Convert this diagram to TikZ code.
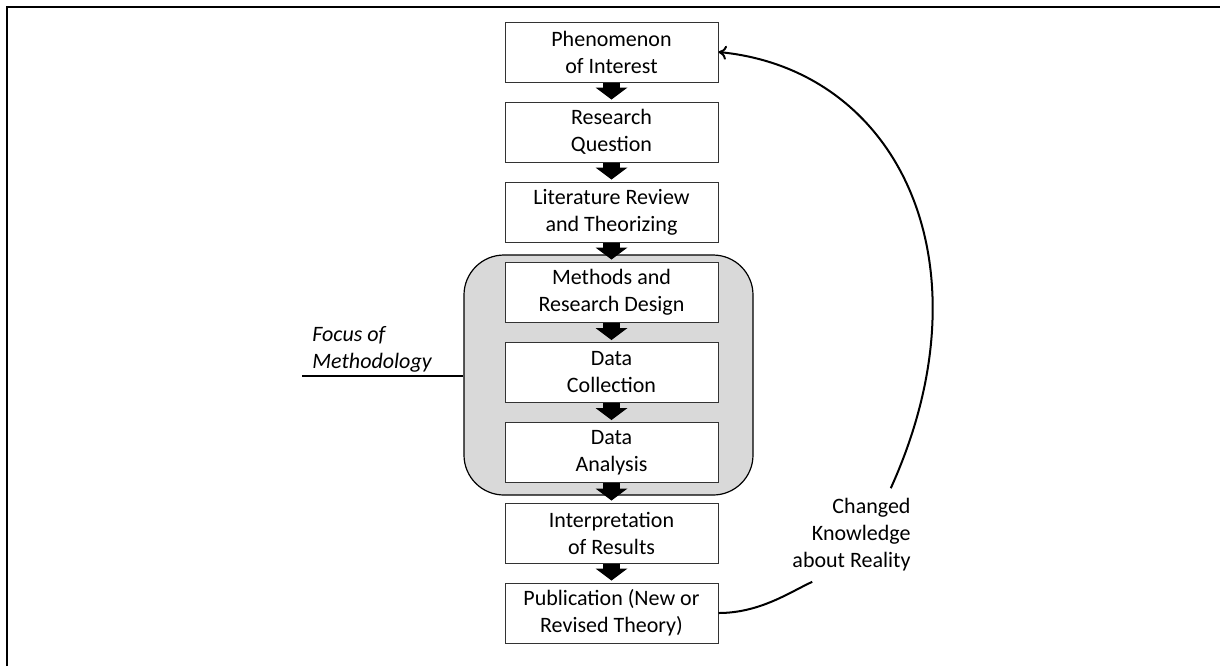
\documentclass[tikz,border=0pt]{standalone}
\usepackage{fontspec}
\setmainfont{Carlito}
\usepackage{tikz}
\usetikzlibrary{positioning,arrows.meta}

\begin{document}
\begin{tikzpicture}[x=0.5pt, y=-0.5pt,
  stepbox/.style={draw=black!80, line width=0.5pt, fill=white, align=center,
    minimum width=106.5pt, minimum height=30pt, inner sep=2pt,
    font=\fontsize{11}{13.5}\selectfont},
  blockarrow/.style={line width=8.5pt, shorten >=1pt,
    -{Triangle[width=16pt, length=6pt, line width=0pt]}},
  focusbox/.style={draw=black, line width=0.6pt, fill=black!15, rounded corners=20pt,
    minimum width=144.5pt, minimum height=120pt},
  feedback/.style={line width=1pt},
  note/.style={font=\fontsize{11}{13.5}\selectfont, inner sep=0pt}]
  \useasboundingbox (0,0) rectangle (1220,666);

  % Frame
  \draw[line width=1pt] (7,666) -- (7,7) -- (1220,7);

  % Focus of methodology
  \node[focusbox] (focus) at (608.5,375) {};
  \node[note, align=left, anchor=south west, font=\fontsize{11}{13.5}\selectfont\itshape]
    (focusnote) at (312,373) {Focus of\\Methodology};
  \coordinate (fstart) at (302,376);
  \draw[line width=0.6pt] (fstart) -- (focus.west |- fstart);

  % Steps
  \node[stepbox] (phen) at (611.5,52)  {Phenomenon\\of Interest};
  \node[stepbox] (rq)   at (611.5,132) {Research\\Question};
  \node[stepbox] (lit)  at (611.5,212) {Literature Review\\and Theorizing};
  \node[stepbox] (meth) at (611.5,292) {Methods and\\Research Design};
  \node[stepbox] (dcol) at (611.5,372.5) {Data\\Collection};
  \node[stepbox] (dana) at (611.5,452.5) {Data\\Analysis};
  \node[stepbox] (interp) at (611.5,533) {Interpretation\\of Results};
  \node[stepbox] (pub)  at (611.5,613) {Publication (New or\\Revised Theory)};

  % Arrows
  \draw[blockarrow] (phen) -- (rq);
  \draw[blockarrow] (rq) -- (lit);
  \draw[blockarrow] (lit) -- (meth);
  \draw[blockarrow] (meth) -- (dcol);
  \draw[blockarrow] (dcol) -- (dana);
  \draw[blockarrow] (dana) -- (interp);
  \draw[blockarrow] (interp) -- (pub);

  % Feedback loop
  \node[note, align=right, inner sep=5pt] (lbl) at (851.5,535)
    {Changed\\Knowledge\\about Reality};
  \draw[feedback] (pub.east) .. controls (760,613) and (790,592) .. (lbl.230);
  \draw[feedback, -{To[length=4pt, width=7pt]}] (lbl.50)
    .. controls (992,265) and (900,70) .. (phen.east);
\end{tikzpicture}
\end{document}
